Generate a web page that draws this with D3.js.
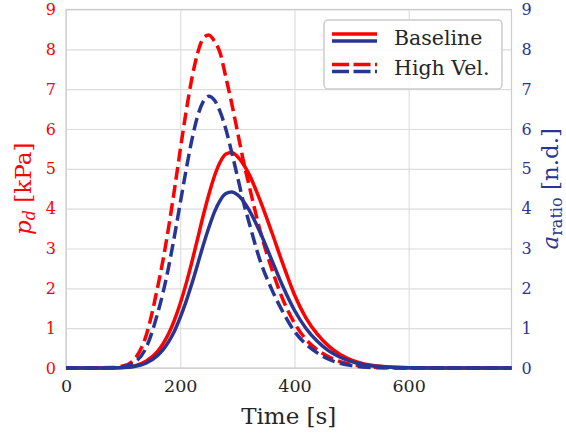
<!DOCTYPE html>
<html>
<head>
<meta charset="utf-8">
<script src="https://cdn.jsdelivr.net/npm/d3@7"></script>
<style>
  body { margin: 0; background: #fff; }
  text { font-family: "DejaVu Serif", serif; }
</style>
</head>
<body>
<script>
// time samples [s]
var time = [0, 40, 80, 100, 120, 140, 160, 170, 180, 190, 200, 210, 220, 230, 240, 250, 260, 270, 280, 290, 300, 310, 320, 340, 360, 380, 400, 420, 440, 460, 480, 500, 520, 550, 600, 650, 700, 780];

// p_d [kPa]
var pdBaseline = [0, 0, 0.004, 0.015, 0.05, 0.17, 0.41, 0.61, 0.87, 1.21, 1.62, 2.1, 2.64, 3.22, 3.81, 4.35, 4.82, 5.17, 5.37, 5.41, 5.31, 5.13, 4.88, 4.2, 3.42, 2.6, 1.84, 1.26, 0.85, 0.55, 0.34, 0.2, 0.11, 0.045, 0.008, 0.001, 0, 0];
var pdHighVel = [0, 0, 0.01, 0.05, 0.22, 0.8, 2.0, 2.72, 3.56, 4.49, 5.47, 6.41, 7.24, 7.88, 8.27, 8.36, 8.2, 7.9, 7.29, 6.65, 5.95, 5.24, 4.62, 3.44, 2.5, 1.71, 1.13, 0.72, 0.46, 0.28, 0.16, 0.085, 0.04, 0.012, 0.002, 0, 0, 0];

// a_ratio [n.d.]
var aBaseline = [0, 0, 0.003, 0.01, 0.04, 0.12, 0.31, 0.46, 0.67, 0.93, 1.27, 1.66, 2.1, 2.58, 3.07, 3.52, 3.92, 4.21, 4.38, 4.42, 4.35, 4.2, 3.98, 3.4, 2.72, 2.04, 1.45, 1.0, 0.67, 0.43, 0.27, 0.16, 0.09, 0.036, 0.007, 0.001, 0, 0];
var aHighVel = [0, 0, 0.005, 0.03, 0.14, 0.5, 1.35, 1.9, 2.56, 3.32, 4.14, 4.95, 5.7, 6.3, 6.68, 6.82, 6.72, 6.43, 5.99, 5.42, 4.82, 4.2, 3.68, 2.69, 1.98, 1.4, 0.92, 0.6, 0.38, 0.22, 0.12, 0.06, 0.028, 0.008, 0.001, 0, 0, 0];

var xTicks = [0, 200, 400, 600];
var yTicks = [0, 1, 2, 3, 4, 5, 6, 7, 8, 9];
var legendLabels = ["Baseline", "High Vel."];

var width = 566, height = 433;
var margin = { top: 9.5, right: 54.5, bottom: 65, left: 66 };
var red = "#ff0000", blue = "#283593";

var svg = d3.select("body").append("svg")
    .attr("width", width)
    .attr("height", height);

var x = d3.scaleLinear().domain([0, 780]).range([margin.left, width - margin.right]);
var yL = d3.scaleLinear().domain([0, 9]).range([height - margin.bottom, margin.top]);
var yR = d3.scaleLinear().domain([0, 9]).range([height - margin.bottom, margin.top]);

// grid
svg.append("g")
    .attr("transform", `translate(0,${height - margin.bottom})`)
    .call(d3.axisBottom(x).tickValues(xTicks).tickSize(-(height - margin.bottom - margin.top)).tickFormat(""))
    .call(g => g.select(".domain").remove())
    .call(g => g.selectAll("line").attr("stroke", "#dcdcdc").attr("stroke-width", 1.1));

svg.append("g")
    .attr("transform", `translate(${margin.left},0)`)
    .call(d3.axisLeft(yL).tickValues(yTicks).tickSize(-(width - margin.left - margin.right)).tickFormat(""))
    .call(g => g.select(".domain").remove())
    .call(g => g.selectAll("line").attr("stroke", "#dcdcdc").attr("stroke-width", 1.1));

// spines
svg.append("rect")
    .attr("x", margin.left).attr("y", margin.top)
    .attr("width", width - margin.left - margin.right)
    .attr("height", height - margin.top - margin.bottom)
    .attr("fill", "none").attr("stroke", "#cccccc").attr("stroke-width", 1.25);

// tick labels
svg.append("g")
    .attr("transform", `translate(0,${height - margin.bottom})`)
    .call(d3.axisBottom(x).tickValues(xTicks).tickSize(0).tickPadding(12))
    .call(g => g.select(".domain").remove())
    .call(g => g.selectAll("text").attr("fill", "#262626").attr("font-size", 17.5).attr("font-family", "DejaVu Serif"));

svg.append("g")
    .attr("transform", `translate(${margin.left},0)`)
    .call(d3.axisLeft(yL).tickValues(yTicks).tickSize(0).tickPadding(10))
    .call(g => g.select(".domain").remove())
    .call(g => g.selectAll("text").attr("fill", red).attr("font-size", 16).attr("font-family", "DejaVu Serif"));

svg.append("g")
    .attr("transform", `translate(${width - margin.right},0)`)
    .call(d3.axisRight(yR).tickValues(yTicks).tickSize(0).tickPadding(10))
    .call(g => g.select(".domain").remove())
    .call(g => g.selectAll("text").attr("fill", blue).attr("font-size", 16).attr("font-family", "DejaVu Serif"));

// curves
var lineL = d3.line().x((d, i) => x(time[i])).y(d => yL(d)).curve(d3.curveMonotoneX);
var lineR = d3.line().x((d, i) => x(time[i])).y(d => yR(d)).curve(d3.curveMonotoneX);

var series = [
    { values: pdBaseline, line: lineL, color: red, dash: null },
    { values: pdHighVel, line: lineL, color: red, dash: "12.8,5.5" },
    { values: aBaseline, line: lineR, color: blue, dash: null },
    { values: aHighVel, line: lineR, color: blue, dash: "12.8,5.5" }
];

svg.selectAll("path.curve")
    .data(series)
    .join("path")
    .attr("class", "curve")
    .attr("d", d => d.line(d.values))
    .attr("fill", "none")
    .attr("stroke", d => d.color)
    .attr("stroke-width", 3.5)
    .attr("stroke-dasharray", d => d.dash);

// axis labels
svg.append("text")
    .attr("x", x(390)).attr("y", 424)
    .attr("text-anchor", "middle")
    .attr("font-size", 23).attr("fill", "#262626")
    .text("Time [s]");

var ly = svg.append("text")
    .attr("transform", `translate(31,${(margin.top + height - margin.bottom) / 2}) rotate(-90)`)
    .attr("text-anchor", "middle")
    .attr("font-size", 23).attr("fill", red);
ly.append("tspan").attr("font-style", "italic").text("p");
ly.append("tspan").attr("font-style", "italic").attr("font-size", 16).attr("dy", 4).text("d");
ly.append("tspan").attr("dy", -4).text(" [kPa]");

var ry = svg.append("text")
    .attr("transform", `translate(558,${(margin.top + height - margin.bottom) / 2}) rotate(-90)`)
    .attr("text-anchor", "middle")
    .attr("font-size", 23).attr("fill", blue);
ry.append("tspan").attr("font-style", "italic").text("a");
ry.append("tspan").attr("font-size", 16).attr("dy", 4).text("ratio");
ry.append("tspan").attr("dy", -4).text(" [n.d.]");

// legend
var lg = svg.append("g");
lg.append("rect")
    .attr("x", 324).attr("y", 20).attr("width", 178).attr("height", 69)
    .attr("rx", 4).attr("fill", "#fff").attr("fill-opacity", 0.85)
    .attr("stroke", "#cccccc").attr("stroke-width", 1.5);

legendLabels.forEach((lab, i) => {
    var y0 = 34 + i * 30.5;
    var dash = i === 1 ? "17,4.5" : null;
    lg.append("line").attr("x1", 332).attr("x2", 377).attr("y1", y0).attr("y2", y0)
        .attr("stroke", red).attr("stroke-width", 3.5).attr("stroke-dasharray", dash);
    lg.append("line").attr("x1", 332).attr("x2", 377).attr("y1", y0 + 7).attr("y2", y0 + 7)
        .attr("stroke", blue).attr("stroke-width", 3.5).attr("stroke-dasharray", dash);
    lg.append("text").attr("x", 394).attr("y", 45 + i * 30)
        .attr("font-size", 20.5).attr("fill", "#262626").text(lab);
});
</script>
</body>
</html>
